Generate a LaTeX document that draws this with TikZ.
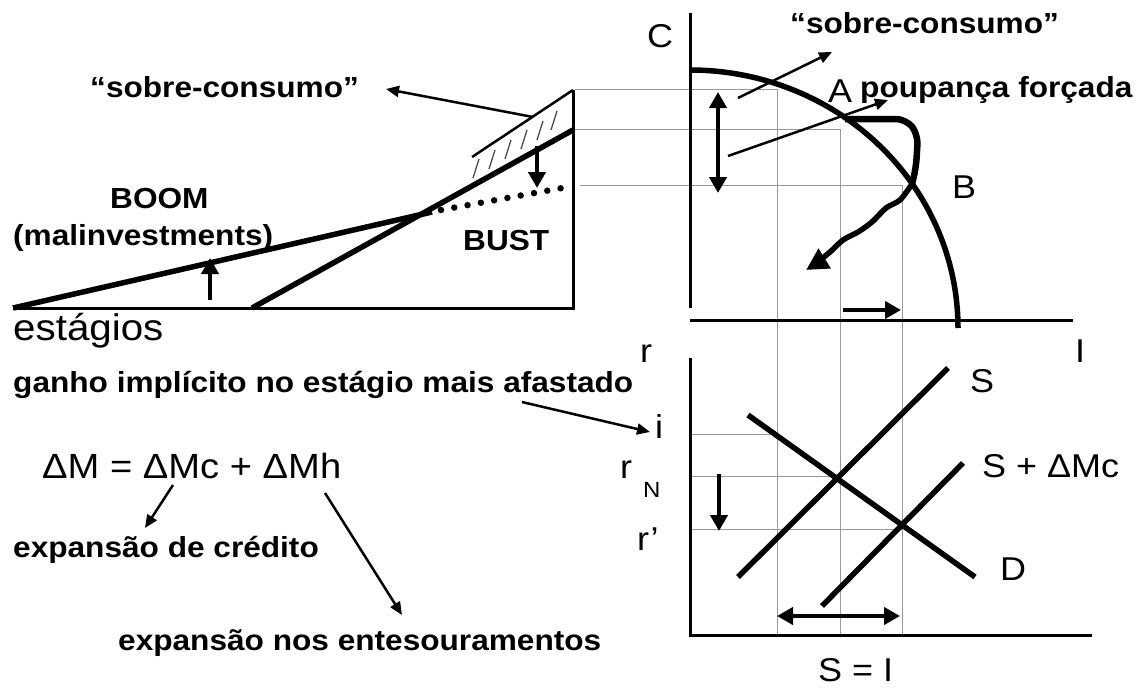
\documentclass[tikz,border=0pt]{standalone}
\usepackage{fontspec}
\setmainfont{Liberation Sans}[FakeStretch=1.09]
\usetikzlibrary{arrows.meta}
\begin{document}
\begin{tikzpicture}[x=1pt,y=-1pt,
  bl/.style={font=\fontsize{29}{29}\selectfont\bfseries, inner sep=0pt, anchor=base west},
  rg/.style={font=\fontsize{33}{33}\selectfont, inner sep=0pt, anchor=base west},
  thickln/.style={line width=5.5pt},
  axisln/.style={line width=3pt},
  gridln/.style={line width=1pt, draw=black!40},
  hatchln/.style={line width=1.3pt, draw=black!70},
  thinarr/.style={line width=2.5pt, -{Triangle[length=13pt,width=11pt]}},
  bigarr/.style={line width=4.5pt, -{Triangle[length=16pt,width=17pt]}},
  dblarr/.style={line width=4.5pt, {Triangle[length=16pt,width=17pt]}-{Triangle[length=16pt,width=17pt]}},
]
\useasboundingbox (0,0) rectangle (1140,688);

% ---------- coordinates ----------
\coordinate (t0) at (13,308);
\coordinate (t1) at (573,308);
\coordinate (t2) at (573,90);
\coordinate (h0) at (472,157);
\coordinate (s0) at (252,308);
\coordinate (s1) at (573,130);
\coordinate (b1) at (432,212);
\coordinate (d0) at (441,210);
\coordinate (d1) at (573,186);

% ---------- grey guide lines ----------
\draw[gridln] (575,89) -- (777,89) -- (777,635);
\draw[gridln] (575,129) -- (840,129) -- (840,635);
\draw[gridln] (580,185) -- (902,185) -- (902,635);
\draw[gridln] (690,434) -- (776,434);
\draw[gridln] (690,476) -- (838,476);
\draw[gridln] (690,529) -- (902,529);

% ---------- stages triangle ----------
\draw[axisln] (t0) -- (t1) -- (t2);
\draw[line width=2.5pt] (h0) -- (t2);
\draw[thickln] (s0) -- (s1);
\draw[thickln] (t0) -- (b1);
\draw[line width=6.5pt, line cap=round, dash pattern=on 0pt off 13.5pt] (d0) -- (d1);
\foreach \a/\b/\c/\d in {473/178/479/159, 489/169/495/150, 505/159/511/140, 521/149/527/130, 537/140/543/121, 551/130/557/111}
  \draw[hatchln] (\a,\b) -- (\c,\d);
\coordinate (ua0) at (210,300);
\coordinate (ua1) at (210,258);
\draw[bigarr] (ua0) -- (ua1);
\coordinate (da0) at (537,146);
\coordinate (da1) at (537,188);
\draw[bigarr] (da0) -- (da1);

% ---------- texts left ----------
\node[bl] (sc1) at (90,97) {“sobre-consumo”};
\node[bl] (boom) at (110,208) {BOOM};
\node[bl] (mal) at (13,245) {(malinvestments)};
\node[bl] (bust) at (463,250) {BUST};
\node[rg, font=\fontsize{37}{37}\selectfont] (est) at (13,340) {estágios};
\node[bl] (ganho) at (13,392) {ganho implícito no estágio mais afastado};
\node[rg, font=\fontsize{35}{35}\selectfont] (dm) at (42,478) {ΔM = ΔMc + ΔMh};
\node[bl] (ecred) at (13,557) {expansão de crédito};
\node[bl] (eent) at (118,650) {expansão nos entesouramentos};

\coordinate (sa0) at (533,117);
\coordinate (sa1) at (386,89);
\draw[thinarr] (sa0) -- (sa1);
\coordinate (ga0) at (522,402);
\coordinate (ga1) at (650,432);
\draw[thinarr] (ga0) -- (ga1);
\coordinate (ma0) at (173,485);
\coordinate (ma1) at (145,528);
\draw[thinarr] (ma0) -- (ma1);
\coordinate (mh0) at (325,493);
\coordinate (mh1) at (402,615);
\draw[thinarr] (mh0) -- (mh1);

% ---------- PPF panel ----------
\draw[axisln] (690,13) -- (690,308);
\draw[axisln] (690,320) -- (1073,320);
\draw[thickln] plot[domain=90:0, samples=90, smooth] ({690+268*cos(\x)},{328-258*sin(\x)});
\draw[line width=6.5pt, rounded corners=10pt] (845,119) -- (906,119) -- (918,134) -- (916,168) -- (912,184);
\draw[line width=5.5pt, -{Triangle[length=22pt,width=22pt]}] plot[smooth] coordinates {(912,184) (900,200) (886,208) (872,222) (858,232) (843,240) (830,252) (815,264) (806,270)};
\draw[dblarr] (718,92) -- (718,193);
\coordinate (p0) at (738,98);
\coordinate (p1) at (832,52);
\draw[thinarr] (p0) -- (p1);
\coordinate (q0) at (728,156);
\coordinate (q1) at (888,100);
\draw[thinarr] (q0) -- (q1);
\draw[bigarr] (843,310) -- (901,310);

\node[rg] (C) at (647,47) {C};
\node[bl] (sc2) at (790,33) {“sobre-consumo”};
\node[rg] (A) at (828,102) {A};
\node[bl] (pf) at (860,97) {poupança forçada};
\node[rg] (B) at (952,198) {B};
\node[rg] (Ilab) at (1075,362) {I};

% ---------- S / D panel ----------
\draw[axisln] (690,358) -- (690,635) -- (1092,635);
\draw[thickln] (738,577) -- (948,368);
\draw[thickln] (822,606) -- (963,463);
\draw[thickln] (748,415) -- (975,577);
\draw[bigarr] (719,474) -- (719,531);
\draw[dblarr] (777,616) -- (900,616);

\node[rg] (r) at (640,362) {r};
\node[rg] (i) at (655,438) {i};
\node[rg] (rN) at (620,478) {r};
\node[rg, font=\fontsize{22}{22}\selectfont] (N) at (643,497) {N};
\node[rg] (rp) at (637,550) {r’};
\node[rg] (S) at (970,392) {S};
\node[rg] (SM) at (982,477) {S + ΔMc};
\node[rg] (D) at (1000,580) {D};
\node[rg] (SI) at (818,681) {S = I};
\end{tikzpicture}
\end{document}
